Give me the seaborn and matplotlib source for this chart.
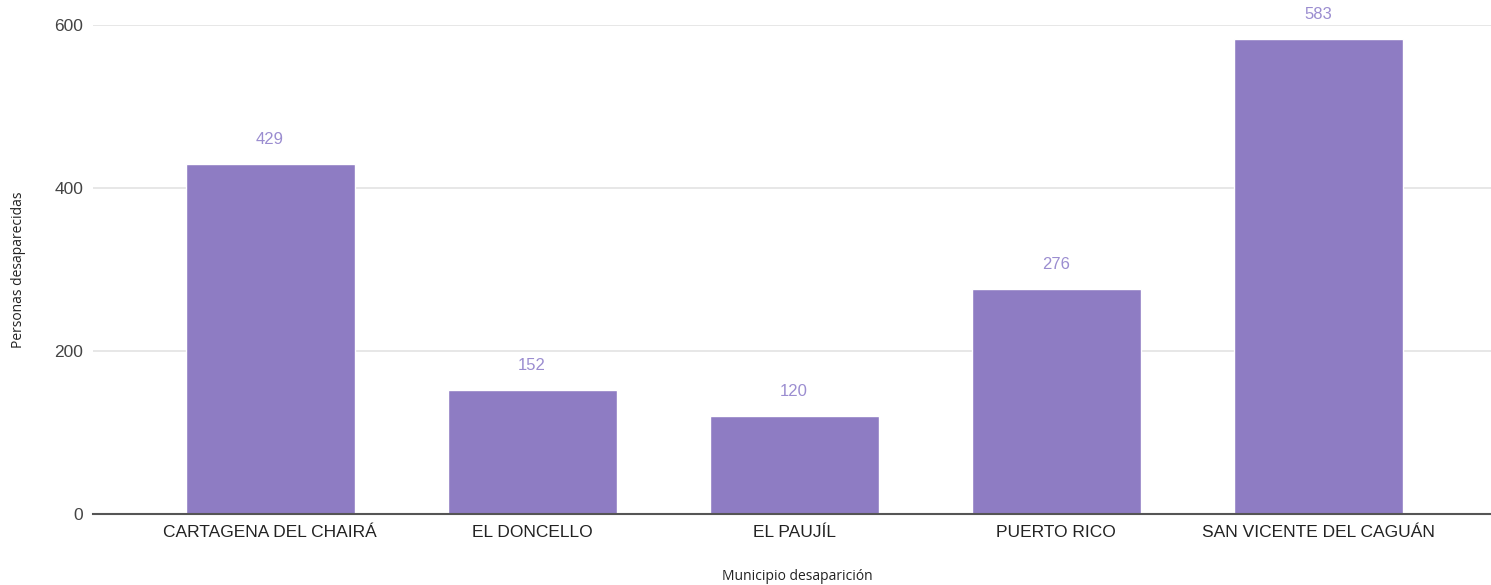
import pandas as pd
import matplotlib.pyplot as plt
import seaborn as sns

# Data
municipios = ["CARTAGENA DEL CHAIRÁ", "EL DONCELLO", "EL PAUJÍL", "PUERTO RICO", "SAN VICENTE DEL CAGUÁN"]
personas = [429, 152, 120, 276, 583]
y_ticks = [0, 200, 400, 600]

df = pd.DataFrame({"municipio": municipios, "personas": personas})

sns.set_style("white")
plt.rcParams["font.family"] = ["Liberation Sans", "DejaVu Sans"]

fig = plt.figure(figsize=(14.91, 5.85), dpi=100)
ax = fig.add_axes([93 / 1491, 1 - 514 / 585, (1491 - 93) / 1491, (514 - 25) / 585])

sns.barplot(data=df, x="municipio", y="personas", color="#8e7cc3", saturation=1,
            width=0.645, ax=ax, zorder=3)

# Value labels above bars
for i, v in enumerate(personas):
    ax.text(i, v + 21, f"{v}", ha="center", va="bottom", fontsize=12, color="#9b8dd0")

ax.set_ylim(0, 600)
ax.set_xlim(-0.676, 4.66)
ax.set_yticks(y_ticks)
ax.set_yticklabels([str(t) for t in y_ticks], fontsize=12.5, color="#444444")
ax.tick_params(axis="x", labelsize=12.5, labelcolor="#222222", length=0, pad=8)
ax.tick_params(axis="y", length=0, pad=7)
ax.yaxis.grid(True, color="#e0e0e0", linewidth=1.1, zorder=0)
ax.set_axisbelow(True)

for s in ["top", "right", "left"]:
    ax.spines[s].set_visible(False)
ax.spines["bottom"].set_color("#555555")
ax.spines["bottom"].set_linewidth(1.5)
ax.spines["bottom"].set_zorder(4)

ax.set_xlabel("")
ax.set_ylabel("")
fig.text(797 / 1491, 1 - 577 / 585, "Municipio desaparición", ha="center", va="center",
         fontsize=10, family="Open Sans", color="#222222")
fig.text(19 / 1491, 1 - 270 / 585, "Personas desaparecidas", ha="center", va="center",
         rotation=90, fontsize=10, family="Open Sans", color="#222222")

fig.savefig("out.png", dpi=100)
